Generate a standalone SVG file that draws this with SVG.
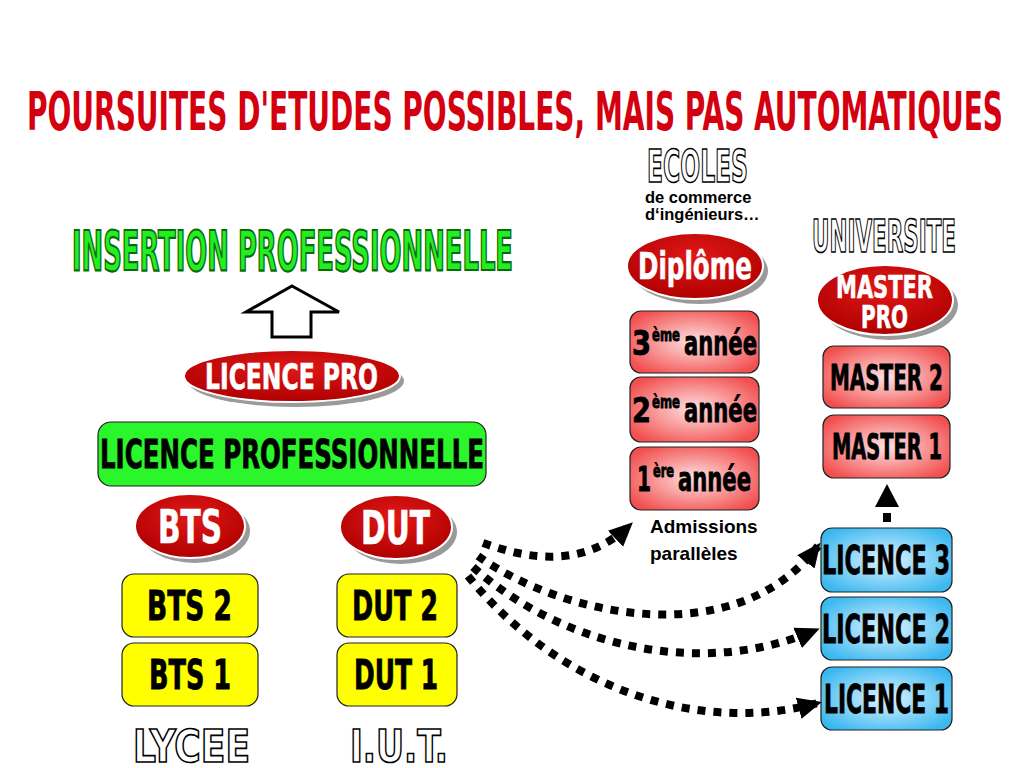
<svg xmlns="http://www.w3.org/2000/svg" width="1024" height="768" viewBox="0 0 1024 768">
<defs>
<style>
.t{font-family:"DejaVu Sans Condensed","DejaVu Sans","Liberation Sans",sans-serif;font-stretch:condensed;font-weight:bold}
.h{font-family:"Liberation Sans",Arial,sans-serif;font-weight:bold}
.title{fill:#d40010;font-size:53px}
.outl{fill:#fff;stroke:#000;stroke-width:1.6;font-size:44px}
.ovl{fill:url(#gRed);stroke:#fff;stroke-width:2}
.shd{fill:#9a9a9a}
.wt{fill:#fff;stroke:#fff;stroke-width:0.6}
.bk{fill:#000;stroke:#000;stroke-width:0.8}
.box{stroke:#222;stroke-width:1.2}
.dash{fill:none;stroke:#000;stroke-width:8;stroke-dasharray:8 8;marker-end:url(#ah)}
.small{fill:#000;font-size:16.5px}
.adm{fill:#000;font-size:19px}
</style>
<radialGradient id="gRed" cx="50%" cy="35%" r="65%">
<stop offset="0" stop-color="#e01818"/>
<stop offset="1" stop-color="#b00000"/>
</radialGradient>
<radialGradient id="gPink" cx="50%" cy="50%" r="60%">
<stop offset="0" stop-color="#ffe2e2"/>
<stop offset="1" stop-color="#f25050"/>
</radialGradient>
<radialGradient id="gBlue" cx="50%" cy="50%" r="60%">
<stop offset="0" stop-color="#dff4ff"/>
<stop offset="1" stop-color="#3bb8f0"/>
</radialGradient>
<marker id="ah" markerUnits="userSpaceOnUse" markerWidth="26" markerHeight="26" viewBox="0 0 26 26" refX="20" refY="13" orient="auto">
<path d="M0,2 L24,13 L0,24 Z" fill="#000"/>
</marker>
</defs>

<text class="t title" x="27" y="130" textLength="976" lengthAdjust="spacingAndGlyphs">POURSUITES D'ETUDES POSSIBLES, MAIS PAS AUTOMATIQUES</text>

<g id="ecoles-label">
<text class="t outl" x="647" y="182" textLength="101" lengthAdjust="spacingAndGlyphs">ECOLES</text>
<text class="h small" x="645" y="203">de commerce</text>
<text class="h small" x="645" y="220">d‘ingénieurs…</text>
</g>
<g id="universite-label">
<text class="t outl" x="812" y="252" font-size="42" textLength="144" lengthAdjust="spacingAndGlyphs">UNIVERSITE</text>
</g>

<g id="insertion">
<text class="t" x="72" y="270" font-size="55" fill="#22ee22" stroke="#0a6a0a" stroke-width="2.2" textLength="441" lengthAdjust="spacingAndGlyphs">INSERTION PROFESSIONNELLE</text>
</g>

<g id="arrow-up">
<path d="M292,286 L339,312 L311,312 L311,337 L272,337 L272,312 L246,312 Z" fill="#fff" stroke="#000" stroke-width="3" stroke-linejoin="miter"/>
</g>

<g id="licence-pro">
<ellipse class="shd" cx="296" cy="381" rx="108" ry="26"/>
<ellipse class="ovl" cx="292" cy="376" rx="108" ry="26"/>
<text class="t wt" x="205" y="389" font-size="35" textLength="173" lengthAdjust="spacingAndGlyphs">LICENCE  PRO</text>
</g>

<g id="licence-professionnelle">
<rect class="box" x="98" y="422" width="388" height="64" rx="13" fill="#2bf52b"/>
<text class="t bk" x="100" y="468" font-size="39" textLength="384" lengthAdjust="spacingAndGlyphs">LICENCE  PROFESSIONNELLE</text>
</g>

<g id="bts">
<ellipse class="shd" cx="195" cy="531" rx="55" ry="32"/>
<ellipse class="ovl" cx="190" cy="526" rx="55" ry="32"/>
<text class="t wt" x="158" y="543" font-size="46" textLength="64" lengthAdjust="spacingAndGlyphs">BTS</text>
</g>
<g id="dut">
<ellipse class="shd" cx="401" cy="532" rx="56" ry="32"/>
<ellipse class="ovl" cx="396" cy="527" rx="56" ry="32"/>
<text class="t wt" x="361" y="544" font-size="46" textLength="69" lengthAdjust="spacingAndGlyphs">DUT</text>
</g>

<g id="bts2">
<rect class="box" x="122" y="574" width="136" height="63" rx="12" fill="#ffff00"/>
<text class="t bk" x="147" y="620" font-size="41" textLength="85" lengthAdjust="spacingAndGlyphs">BTS 2</text>
</g>
<g id="bts1">
<rect class="box" x="122" y="643" width="136" height="63" rx="12" fill="#ffff00"/>
<text class="t bk" x="149" y="689" font-size="41" textLength="82" lengthAdjust="spacingAndGlyphs">BTS 1</text>
</g>
<g id="dut2">
<rect class="box" x="337" y="574" width="120" height="63" rx="12" fill="#ffff00"/>
<text class="t bk" x="352" y="620" font-size="41" textLength="86" lengthAdjust="spacingAndGlyphs">DUT 2</text>
</g>
<g id="dut1">
<rect class="box" x="337" y="643" width="120" height="63" rx="12" fill="#ffff00"/>
<text class="t bk" x="354" y="689" font-size="41" textLength="84" lengthAdjust="spacingAndGlyphs">DUT 1</text>
</g>

<g id="lycee-label">
<text class="t outl" x="133" y="762" font-size="62" textLength="117" lengthAdjust="spacingAndGlyphs">LYCEE</text>
</g>
<g id="iut-label">
<text class="t outl" x="350" y="762" font-size="62" textLength="98" lengthAdjust="spacingAndGlyphs">I.U.T.</text>
</g>

<g id="diplome">
<ellipse class="shd" cx="700" cy="271" rx="68" ry="33"/>
<ellipse class="ovl" cx="695" cy="266" rx="68" ry="33"/>
<text class="t wt" x="638" y="279" font-size="37" textLength="114" lengthAdjust="spacingAndGlyphs">Diplôme</text>
</g>

<g id="annee3">
<rect class="box" x="630" y="311" width="129" height="62" rx="11" fill="url(#gPink)"/>
<text class="t bk" x="632" y="355" font-size="33" textLength="19" lengthAdjust="spacingAndGlyphs">3</text>
<text class="t bk" x="652" y="341" font-size="17" textLength="28" lengthAdjust="spacingAndGlyphs">ème</text>
<text class="t bk" x="684" y="355" font-size="33" textLength="73" lengthAdjust="spacingAndGlyphs">année</text>
</g>
<g id="annee2">
<rect class="box" x="630" y="377" width="129" height="65" rx="11" fill="url(#gPink)"/>
<text class="t bk" x="632" y="422" font-size="33" textLength="19" lengthAdjust="spacingAndGlyphs">2</text>
<text class="t bk" x="652" y="408" font-size="17" textLength="28" lengthAdjust="spacingAndGlyphs">ème</text>
<text class="t bk" x="684" y="422" font-size="33" textLength="73" lengthAdjust="spacingAndGlyphs">année</text>
</g>
<g id="annee1">
<rect class="box" x="630" y="447" width="129" height="63" rx="11" fill="url(#gPink)"/>
<text class="t bk" x="637" y="491" font-size="33" textLength="14" lengthAdjust="spacingAndGlyphs">1</text>
<text class="t bk" x="653" y="477" font-size="17" textLength="21" lengthAdjust="spacingAndGlyphs">ère</text>
<text class="t bk" x="678" y="491" font-size="33" textLength="73" lengthAdjust="spacingAndGlyphs">année</text>
</g>

<g id="admissions">
<text class="h adm" x="650" y="533">Admissions</text>
<text class="h adm" x="650" y="560">parallèles</text>
</g>

<g id="master-pro">
<ellipse class="shd" cx="890" cy="305" rx="68" ry="35"/>
<ellipse class="ovl" cx="885" cy="300" rx="68" ry="35"/>
<text class="t wt" x="836" y="298" font-size="32" textLength="97" lengthAdjust="spacingAndGlyphs">MASTER</text>
<text class="t wt" x="861" y="328" font-size="32" textLength="47" lengthAdjust="spacingAndGlyphs">PRO</text>
</g>

<g id="master2">
<rect class="box" x="823" y="346" width="127" height="62" rx="11" fill="url(#gPink)"/>
<text class="t bk" x="830" y="390" font-size="35" textLength="113" lengthAdjust="spacingAndGlyphs">MASTER 2</text>
</g>
<g id="master1">
<rect class="box" x="823" y="415" width="127" height="63" rx="11" fill="url(#gPink)"/>
<text class="t bk" x="832" y="459" font-size="35" textLength="110" lengthAdjust="spacingAndGlyphs">MASTER 1</text>
</g>

<g id="licence3">
<rect class="box" x="821" y="528" width="131" height="64" rx="11" fill="url(#gBlue)"/>
<text class="t bk" x="822" y="574" font-size="39" textLength="128" lengthAdjust="spacingAndGlyphs">LICENCE 3</text>
</g>
<g id="licence2">
<rect class="box" x="821" y="597" width="131" height="63" rx="11" fill="url(#gBlue)"/>
<text class="t bk" x="822" y="643" font-size="39" textLength="128" lengthAdjust="spacingAndGlyphs">LICENCE 2</text>
</g>
<g id="licence1">
<rect class="box" x="821" y="667" width="131" height="63" rx="11" fill="url(#gBlue)"/>
<text class="t bk" x="824" y="713" font-size="39" textLength="125" lengthAdjust="spacingAndGlyphs">LICENCE 1</text>
</g>

<g id="connectors">
<path class="dash" d="M483,543 C530,560 585,568 630,525"/>
<path class="dash" d="M478,556 C560,615 735,655 818,546"/>
<path class="dash" d="M473,567 C560,645 700,680 816,630"/>
<path class="dash" d="M468,576 C560,690 700,735 818,703"/>
<rect x="883" y="513" width="8" height="9" fill="#000"/>
<path d="M887,484 L899,507 L875,507 Z" fill="#000"/>
</g>
</svg>
